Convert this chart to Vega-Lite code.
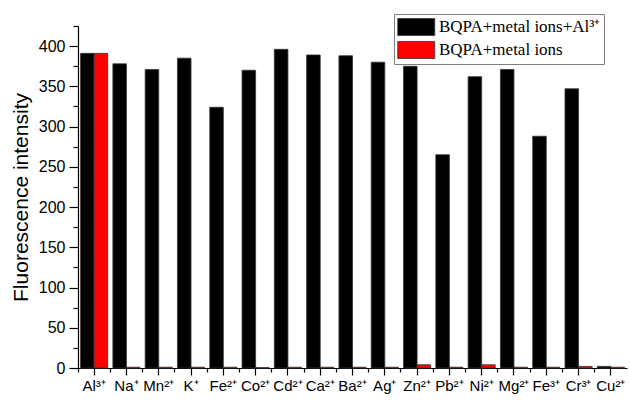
{
  "$schema": "https://vega.github.io/schema/vega-lite/v6.json",
  "width": 549,
  "height": 342,
  "autosize": {"type": "none"},
  "padding": {"left": 78, "top": 26, "right": 3, "bottom": 32},
  "background": "white",
  "config": {
    "view": {"stroke": null},
    "font": "Liberation Sans",
    "axis": {
      "domainColor": "black",
      "tickColor": "black",
      "labelColor": "black",
      "titleColor": "black",
      "grid": false,
      "labelFont": "Liberation Sans",
      "titleFont": "Liberation Sans"
    }
  },
  "data": {
    "values": [
      {"ion": "Al³⁺", "series": "BQPA+metal ions+Al³⁺", "value": 391},
      {"ion": "Al³⁺", "series": "BQPA+metal ions", "value": 391},
      {"ion": "Na⁺", "series": "BQPA+metal ions+Al³⁺", "value": 378},
      {"ion": "Na⁺", "series": "BQPA+metal ions", "value": 1},
      {"ion": "Mn²⁺", "series": "BQPA+metal ions+Al³⁺", "value": 371},
      {"ion": "Mn²⁺", "series": "BQPA+metal ions", "value": 1},
      {"ion": "K⁺", "series": "BQPA+metal ions+Al³⁺", "value": 385},
      {"ion": "K⁺", "series": "BQPA+metal ions", "value": 1},
      {"ion": "Fe²⁺", "series": "BQPA+metal ions+Al³⁺", "value": 324},
      {"ion": "Fe²⁺", "series": "BQPA+metal ions", "value": 1},
      {"ion": "Co²⁺", "series": "BQPA+metal ions+Al³⁺", "value": 370},
      {"ion": "Co²⁺", "series": "BQPA+metal ions", "value": 0.5},
      {"ion": "Cd²⁺", "series": "BQPA+metal ions+Al³⁺", "value": 396},
      {"ion": "Cd²⁺", "series": "BQPA+metal ions", "value": 1},
      {"ion": "Ca²⁺", "series": "BQPA+metal ions+Al³⁺", "value": 389},
      {"ion": "Ca²⁺", "series": "BQPA+metal ions", "value": 1},
      {"ion": "Ba²⁺", "series": "BQPA+metal ions+Al³⁺", "value": 388},
      {"ion": "Ba²⁺", "series": "BQPA+metal ions", "value": 1},
      {"ion": "Ag⁺", "series": "BQPA+metal ions+Al³⁺", "value": 380},
      {"ion": "Ag⁺", "series": "BQPA+metal ions", "value": 1},
      {"ion": "Zn²⁺", "series": "BQPA+metal ions+Al³⁺", "value": 375},
      {"ion": "Zn²⁺", "series": "BQPA+metal ions", "value": 4},
      {"ion": "Pb²⁺", "series": "BQPA+metal ions+Al³⁺", "value": 265},
      {"ion": "Pb²⁺", "series": "BQPA+metal ions", "value": 1},
      {"ion": "Ni²⁺", "series": "BQPA+metal ions+Al³⁺", "value": 362},
      {"ion": "Ni²⁺", "series": "BQPA+metal ions", "value": 4},
      {"ion": "Mg²⁺", "series": "BQPA+metal ions+Al³⁺", "value": 371},
      {"ion": "Mg²⁺", "series": "BQPA+metal ions", "value": 1},
      {"ion": "Fe³⁺", "series": "BQPA+metal ions+Al³⁺", "value": 288},
      {"ion": "Fe³⁺", "series": "BQPA+metal ions", "value": 1},
      {"ion": "Cr³⁺", "series": "BQPA+metal ions+Al³⁺", "value": 347},
      {"ion": "Cr³⁺", "series": "BQPA+metal ions", "value": 2},
      {"ion": "Cu²⁺", "series": "BQPA+metal ions+Al³⁺", "value": 2},
      {"ion": "Cu²⁺", "series": "BQPA+metal ions", "value": 1}
    ]
  },
  "layer": [
    {
      "mark": {"type": "bar", "stroke": "#333333", "strokeWidth": 0.8},
      "encoding": {
        "x": {
          "field": "ion",
          "type": "nominal",
          "sort": null,
          "scale": {"paddingInner": 0.16, "paddingOuter": 0.08},
          "axis": {
            "orient": "bottom",
            "title": null,
            "labelAngle": 0,
            "labelFontSize": 15,
            "tickSize": 7,
            "labelPadding": 3,
            "domainWidth": 1.2,
            "tickWidth": 1.2
          }
        },
        "xOffset": {
          "field": "series",
          "type": "nominal",
          "sort": ["BQPA+metal ions+Al³⁺", "BQPA+metal ions"],
          "scale": {"domain": ["BQPA+metal ions+Al³⁺", "BQPA+metal ions"], "padding": 0}
        },
        "y": {
          "field": "value",
          "type": "quantitative",
          "scale": {"domain": [0, 425], "nice": false},
          "axis": {
            "orient": "left",
            "values": [0, 50, 100, 150, 200, 250, 300, 350, 400],
            "title": "Fluorescence intensity",
            "titleFontSize": 21,
            "titleFontWeight": "normal",
            "titlePadding": 7,
            "labelFontSize": 16,
            "tickSize": 9,
            "labelPadding": 4,
            "domainWidth": 1.2,
            "tickWidth": 1.2
          }
        },
        "color": {
          "field": "series",
          "type": "nominal",
          "sort": ["BQPA+metal ions+Al³⁺", "BQPA+metal ions"],
          "scale": {"domain": ["BQPA+metal ions+Al³⁺", "BQPA+metal ions"], "range": ["#000000", "#ff0000"]},
          "legend": {
            "orient": "none",
            "legendX": 316,
            "legendY": -12,
            "title": null,
            "fillColor": "white",
            "strokeColor": "#808080",
            "padding": 3,
            "symbolType": "M-1,-0.92H3V0.92H-1Z",
            "symbolSize": 342,
            "symbolStrokeColor": "#333333",
            "symbolStrokeWidth": 0.8,
            "labelFont": "Liberation Serif",
            "labelFontSize": 17,
            "labelColor": "black",
            "labelOffset": 22,
            "rowPadding": 1,
            "labelLimit": 300
          }
        }
      }
    },
    {
      "mark": {"type": "bar", "opacity": 0},
      "encoding": {
        "x": {
          "field": "ion",
          "type": "nominal",
          "sort": null,
          "scale": {"paddingInner": 0, "paddingOuter": 0},
          "axis": {
            "orient": "bottom",
            "title": null,
            "labels": false,
            "domain": false,
            "bandPosition": 0,
            "tickSize": 4,
            "tickWidth": 1.2
          }
        },
        "y": {
          "field": "value",
          "type": "quantitative",
          "axis": {
            "orient": "left",
            "values": [25, 75, 125, 175, 225, 275, 325, 375, 425],
            "title": null,
            "labels": false,
            "domain": false,
            "tickSize": 5,
            "tickWidth": 1.2
          }
        }
      }
    }
  ],
  "resolve": {"scale": {"x": "independent"}, "axis": {"x": "independent", "y": "independent"}}
}
